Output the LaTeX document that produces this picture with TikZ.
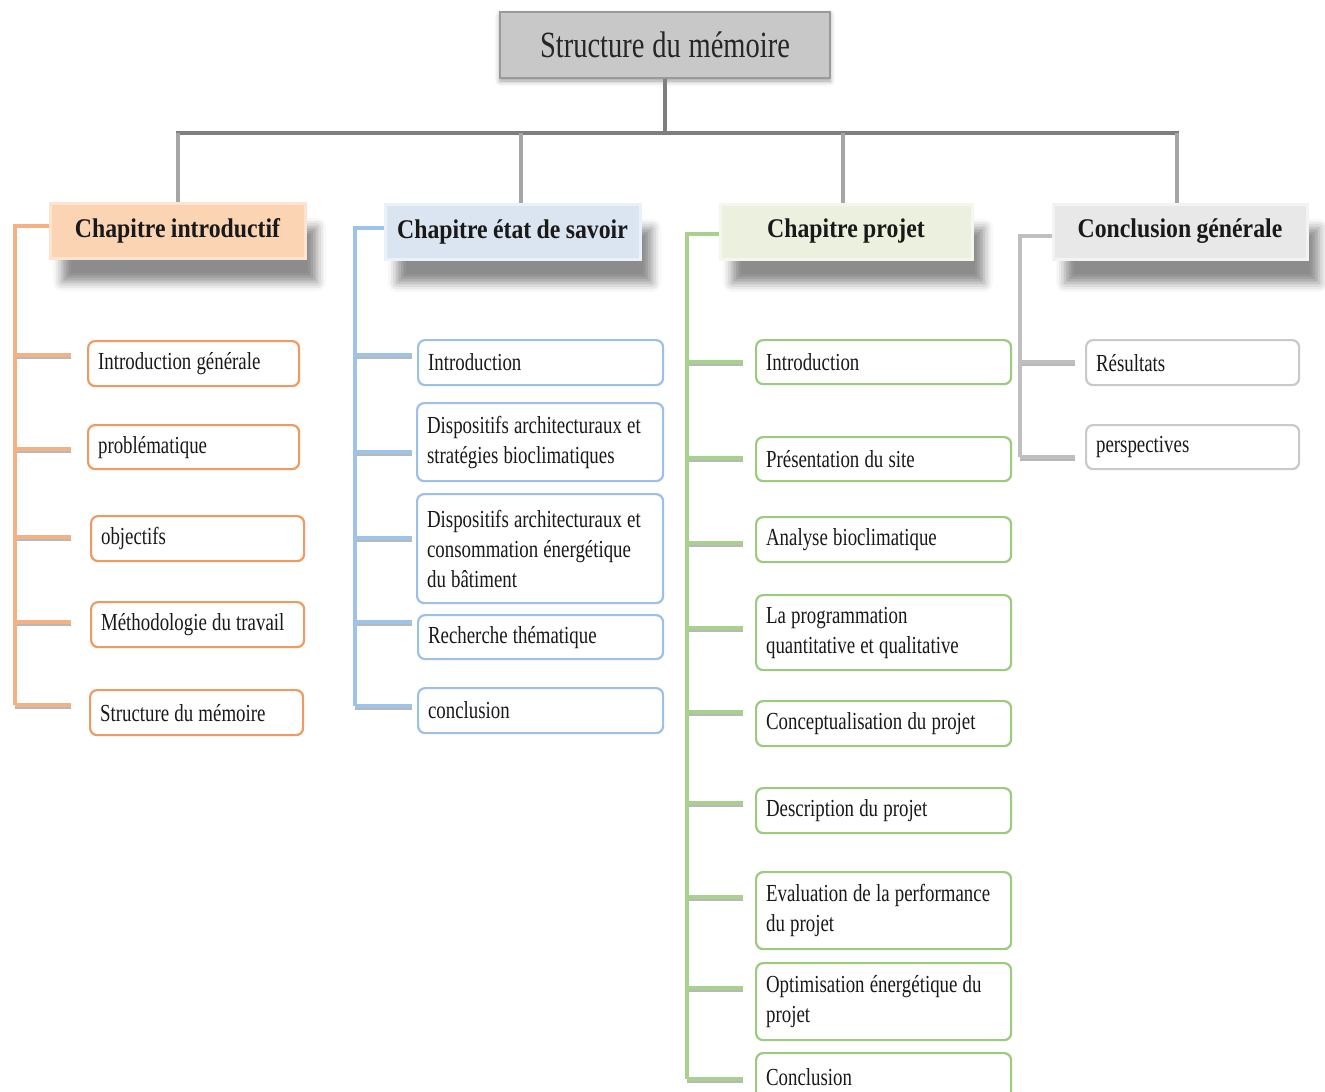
\documentclass[tikz,border=0pt]{standalone}
\usepackage{fontspec}
\setmainfont{Liberation Serif}[FakeStretch=0.77, WordSpace=1.1]
\newfontfamily\headfont{Liberation Serif}[FakeStretch=0.88, WordSpace=0.9]
\usetikzlibrary{shadows.blur}

\definecolor{trunkgray}{HTML}{7F7F7F}
\definecolor{dropgray}{HTML}{A6A6A6}
\definecolor{titlefill}{HTML}{C8C8C8}
\definecolor{titleline}{HTML}{9A9A9A}
% chapter colours
\definecolor{orSpine}{HTML}{F4B183}
\definecolor{orBox}{HTML}{EE9A62}
\definecolor{orHead}{HTML}{FBD4B4}
\definecolor{orHeadL}{HTML}{FDE4D0}
\definecolor{blSpine}{HTML}{9DC3E6}
\definecolor{blBox}{HTML}{9CC0E8}
\definecolor{blHead}{HTML}{DBE5F1}
\definecolor{blHeadL}{HTML}{EAF1F8}
\definecolor{grSpine}{HTML}{A9D18E}
\definecolor{grBox}{HTML}{9BCB7D}
\definecolor{grHead}{HTML}{EBF1DE}
\definecolor{grHeadL}{HTML}{F4F8EC}
\definecolor{gySpine}{HTML}{BFBFBF}
\definecolor{gyBox}{HTML}{C9C9C9}
\definecolor{gyHead}{HTML}{E8E8E8}
\definecolor{gyHeadL}{HTML}{F3F3F3}

\begin{document}
\begin{tikzpicture}[x=1pt,y=-1pt,
  leaf/.style={draw=#1, line width=2.2pt, rounded corners=7pt, fill=white,
    anchor=north west, inner xsep=10pt, inner ysep=2pt,
    text=black!90, font=\fontsize{24.5}{30}\selectfont,
    execute at begin node={\spaceskip=0pt\xspaceskip=0pt}},
  head/.style={line width=3pt, minimum height=55pt,
    font=\headfont\bfseries\fontsize{27}{32}\selectfont, text=black!90,
    blur shadow={shadow xshift=12pt, shadow yshift=-24pt,
      shadow blur radius=9pt, shadow opacity=45}},
  spine/.style={draw=#1, line width=4pt},
  branch/.style={draw=#1, line width=4pt},
  branchshade/.style={draw=black!28, line width=3pt},
  trunk/.style={draw=trunkgray, line width=4pt},
  drop/.style={draw=dropgray, line width=4pt},
]
\useasboundingbox (0,0) rectangle (1325,1092);

% ---------- title ----------
\node[draw=titleline, line width=1.5pt, fill=titlefill,
      minimum width=330pt, minimum height=66pt,
      font=\fontsize{37}{40}\selectfont, text=black!85,
      blur shadow={shadow xshift=0pt, shadow yshift=-3pt,
        shadow blur radius=5pt, shadow opacity=40}]
  (title) at (665,45) {Structure du mémoire};

% ---------- chapter headers ----------
\node[head, fill=orHead, draw=orHeadL, minimum width=255pt]
  (h1) at (177.5,230.5) {Chapitre introductif};
\node[head, fill=blHead, draw=blHeadL, minimum width=255pt]
  (h2) at (512.5,231.5) {Chapitre état de savoir};
\node[head, fill=grHead, draw=grHeadL, minimum width=252pt]
  (h3) at (846,231.5) {Chapitre projet};
\node[head, fill=gyHead, draw=gyHeadL, minimum width=254pt]
  (h4) at (1180,231.5) {Conclusion générale};

% ---------- trunk ----------
\coordinate (barL) at (176,133);
\coordinate (barR) at (1179,133);
\draw[trunk] (title.south) -- (title.south |- barL);
\draw[trunk] (barL) -- (barR);
\draw[drop] (h1.north |- barL) -- (h1.north);
\draw[drop] ([xshift=8pt]h2.north |- barL) -- ([xshift=8pt]h2.north);
\draw[drop] ([xshift=-3pt]h3.north |- barL) -- ([xshift=-3pt]h3.north);
\draw[drop] ([xshift=-3pt]h4.north |- barL) -- ([xshift=-3pt]h4.north);

% ---------- chapter 1 ----------
\node[leaf=orBox, text width=191pt, minimum height=45pt] (c1a) at (87,340) {Introduction générale};
\node[leaf=orBox, text width=191pt, minimum height=44pt] (c1b) at (87,424) {problématique};
\node[leaf=orBox, text width=193pt, minimum height=45pt] (c1c) at (90,515) {objectifs};
\node[leaf=orBox, text width=193pt, minimum height=45pt] (c1d) at (90,601) {Méthodologie du travail};
\node[leaf=orBox, text width=193pt, minimum height=45pt] (c1e) at (89,689) {Structure du mémoire};

\coordinate (s1) at (15,705);
\foreach \n/\y in {1/355,2/449,3/537,4/622,5/705}
  \coordinate (b1\n) at (71,\y);
\foreach \n in {1,...,5}
  \draw[branchshade] ([yshift=-2pt]s1 |- b1\n) -- ([yshift=-2pt]b1\n);
\draw[spine=orSpine] ([yshift=4.5pt]h1.west) -| (s1);
\foreach \n in {1,...,5}
  \draw[branch=orSpine] (s1 |- b1\n) -- (b1\n);

% ---------- chapter 2 ----------
\node[leaf=blBox, text width=225pt, minimum height=45pt] (c2a) at (417,339) {Introduction};
\node[leaf=blBox, text width=226pt, minimum height=78pt] (c2b) at (416,402) {Dispositifs architecturaux et\\stratégies bioclimatiques};
\node[leaf=blBox, text width=226pt, minimum height=109pt] (c2c) at (416,493) {Dispositifs architecturaux et\\consommation énergétique\\du bâtiment};
\node[leaf=blBox, text width=225pt, minimum height=44pt] (c2d) at (417,614) {Recherche thématique};
\node[leaf=blBox, text width=225pt, minimum height=45pt] (c2e) at (417,687) {conclusion};

\coordinate (s2) at (355,706);
\foreach \n/\y in {1/355,2/452,3/538,4/622,5/706}
  \coordinate (b2\n) at (412,\y);
\foreach \n in {1,...,5}
  \draw[branchshade] ([yshift=-2pt]s2 |- b2\n) -- ([yshift=-2pt]b2\n);
\draw[spine=blSpine] ([yshift=3.5pt]h2.west) -| (s2);
\foreach \n in {1,...,5}
  \draw[branch=blSpine] (s2 |- b2\n) -- (b2\n);

% ---------- chapter 3 ----------
\node[leaf=grBox, text width=235pt, minimum height=44pt] (c3a) at (755,339) {Introduction};
\node[leaf=grBox, text width=235pt, minimum height=44pt] (c3b) at (755,436) {Présentation du site};
\node[leaf=grBox, text width=235pt, minimum height=45pt] (c3c) at (755,516) {Analyse bioclimatique};
\node[leaf=grBox, text width=235pt, minimum height=75pt] (c3d) at (755,594) {La programmation\\quantitative et qualitative};
\node[leaf=grBox, text width=235pt, minimum height=45pt] (c3e) at (755,700) {Conceptualisation du projet};
\node[leaf=grBox, text width=235pt, minimum height=45pt] (c3f) at (755,787) {Description du projet};
\node[leaf=grBox, text width=235pt, minimum height=77pt] (c3g) at (755,871) {Evaluation de la performance\\du projet};
\node[leaf=grBox, text width=235pt, minimum height=77pt] (c3h) at (755,962) {Optimisation énergétique du\\projet};
\node[leaf=grBox, text width=235pt, minimum height=48pt] (c3i) at (755,1052) {Conclusion};

\coordinate (s3) at (687,1079);
\foreach \n/\y in {1/362,2/458,3/543,4/628,5/712,6/803,7/897,8/988,9/1079}
  \coordinate (b3\n) at (743,\y);
\foreach \n in {1,...,9}
  \draw[branchshade] ([yshift=-2pt]s3 |- b3\n) -- ([yshift=-2pt]b3\n);
\draw[spine=grSpine] ([yshift=-2.5pt]h3.west) -| (s3);
\foreach \n in {1,...,9}
  \draw[branch=grSpine] (s3 |- b3\n) -- (b3\n);

% ---------- conclusion ----------
\node[leaf=gyBox, text width=193pt, minimum height=45pt] (c4a) at (1085,339) {Résultats};
\node[leaf=gyBox, text width=193pt, minimum height=44pt] (c4b) at (1085,424) {perspectives};

\coordinate (s4) at (1020,457);
\foreach \n/\y in {1/362,2/457}
  \coordinate (b4\n) at (1075,\y);
\foreach \n in {1,2}
  \draw[branchshade] ([yshift=-2pt]s4 |- b4\n) -- ([yshift=-2pt]b4\n);
\draw[spine=gySpine] ([yshift=-4.5pt]h4.west) -| (s4);
\foreach \n in {1,2}
  \draw[branch=gySpine] (s4 |- b4\n) -- (b4\n);

\end{tikzpicture}
\end{document}
